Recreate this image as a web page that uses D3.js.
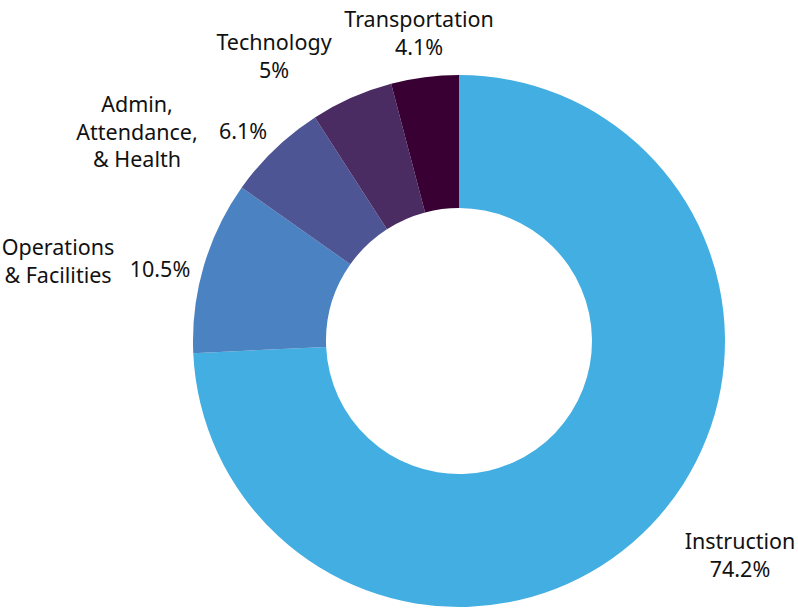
<!DOCTYPE html>
<html>
<head>
<meta charset="utf-8">
<script src="https://cdn.jsdelivr.net/npm/d3@7"></script>
<style>
  body { margin: 0; background: #fff; }
  text { font-family: "Noto Sans", sans-serif; font-size: 21.5px; fill: #111; }
</style>
</head>
<body>
<div id="viz"></div>
<script>
// data
var categories = ["Instruction", "Operations & Facilities", "Admin, Attendance, & Health", "Technology", "Transportation"];
var shares = [74.2, 10.5, 6.1, 5, 4.1];
var shareLabels = ["74.2%", "10.5%", "6.1%", "5%", "4.1%"];
var nameLines = [["Instruction"], ["Operations", "& Facilities"], ["Admin,", "Attendance,", "& Health"], ["Technology"], ["Transportation"]];
var colors = ["#42aee2", "#4a82c2", "#4e5595", "#4a2c63", "#380033"];

// label placement, relative to donut centre (name block x, first baseline y, value x, value baseline y)
// stacked: value sits under the name in the same text block
var labelPos = [
  {nx: 281, ny: 208, stacked: true},
  {nx: -401, ny: -86, vx: -299, vy: -64},
  {nx: -322, ny: -229, vx: -216, vy: -202},
  {nx: -185, ny: -291, stacked: true},
  {nx: -40, ny: -314, stacked: true}
];

var width = 798, height = 609;
var cx = 459, cy = 341;
var outerR = 266, innerR = 133;
var lineH = 27.5;

var svg = d3.select('#viz').append('svg')
  .attr('width', width)
  .attr('height', height);

var g = svg.append('g')
  .attr('transform', 'translate(' + cx + ',' + cy + ')');

var pie = d3.pie().sort(null).value(function(d) { return d; });
var arc = d3.arc().innerRadius(innerR).outerRadius(outerR);

var arcs = pie(shares);

// slices
g.selectAll('.slice')
  .data(arcs)
  .enter().append('path')
  .attr('class', 'slice')
  .attr('d', arc)
  .attr('fill', function(d, i) { return colors[i]; });

// labels
arcs.forEach(function(d, i) {
  var p = labelPos[i];
  var lines = nameLines[i].slice();
  if (p.stacked) lines.push(shareLabels[i]);

  var t = g.append('text')
    .attr('text-anchor', 'middle')
    .attr('x', p.nx)
    .attr('y', p.ny);
  lines.forEach(function(line, j) {
    t.append('tspan')
      .attr('x', p.nx)
      .attr('y', p.ny + j * lineH)
      .text(line);
  });

  if (!p.stacked) {
    g.append('text')
      .attr('text-anchor', 'middle')
      .attr('x', p.vx)
      .attr('y', p.vy)
      .text(shareLabels[i]);
  }
});
</script>
</body>
</html>
